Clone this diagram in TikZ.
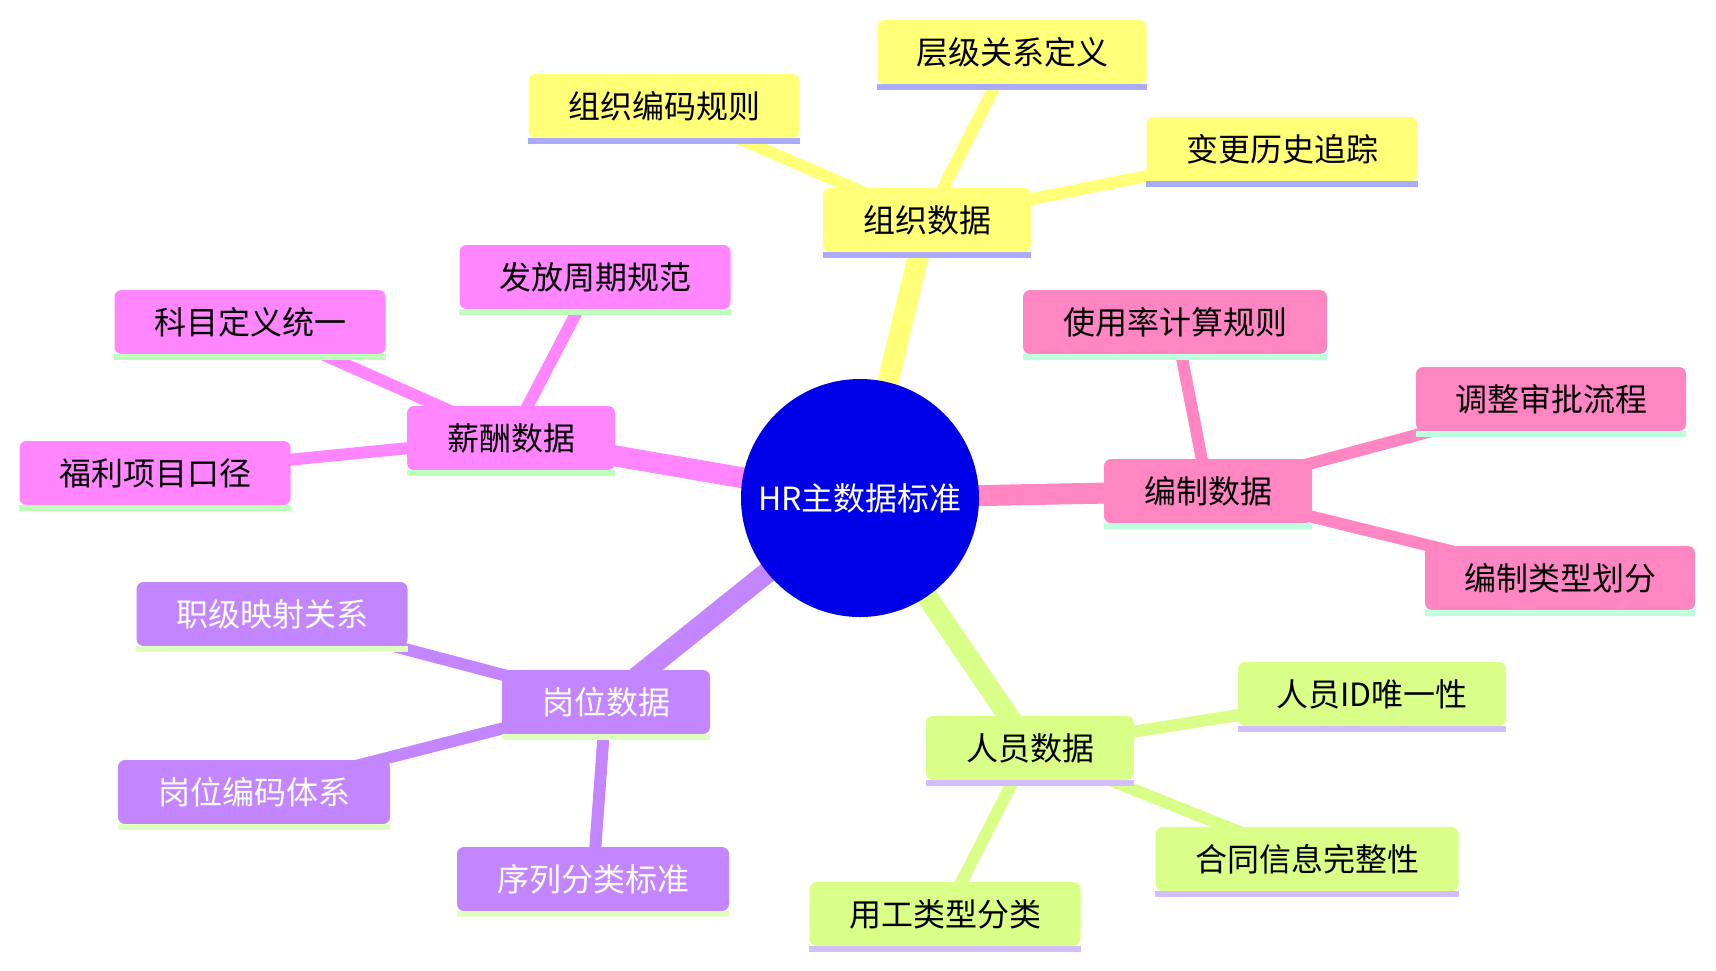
\documentclass[tikz,border=0pt]{standalone}
\usepackage{fontspec}
\newfontfamily\cjk{Noto Sans CJK SC}
\usetikzlibrary{backgrounds}
\definecolor{cRoot}{RGB}{0,0,232}
\definecolor{cY}{RGB}{255,255,120}
\definecolor{cYu}{RGB}{170,170,255}
\definecolor{cL}{RGB}{218,255,136}
\definecolor{cLu}{RGB}{210,190,255}
\definecolor{cP}{RGB}{195,134,255}
\definecolor{cPu}{RGB}{222,255,190}
\definecolor{cM}{RGB}{255,134,255}
\definecolor{cMu}{RGB}{189,255,189}
\definecolor{cR}{RGB}{255,134,195}
\definecolor{cRu}{RGB}{189,255,222}
\tikzset{
  mmbox/.style={rectangle, rounded corners=7pt, minimum height=64pt, inner sep=0pt,
    font=\cjk\fontsize{32}{38}\selectfont, align=center},
  sY/.style={fill=cY, text=black}, sYul/.style={fill=cYu},
  sL/.style={fill=cL, text=black}, sLul/.style={fill=cLu},
  sP/.style={fill=cP, text=white}, sPul/.style={fill=cPu},
  sM/.style={fill=cM, text=black}, sMul/.style={fill=cMu},
  sR/.style={fill=cR, text=black}, sRul/.style={fill=cRu},
  thick edge/.style={line width=21pt},
  thin edge/.style={line width=12pt},
}
\newcommand\mmnode[6]{%
  \node[mmbox,#1,minimum width=#5pt] (#2) at (#3,#4) {#6};
  \fill[#1ul] (#2.south west) rectangle ([yshift=-6pt]#2.south east);}
\begin{document}
\begin{tikzpicture}[x=1pt,y=-1pt]
\useasboundingbox (0,0) rectangle (1716,970);
% root
\node[circle, fill=cRoot, text=white, minimum size=238pt, inner sep=0pt,
  font=\cjk\fontsize{32}{38}\selectfont] (root) at (860,498) {HR主数据标准};
% organisation
\mmnode{sY}{org}{927}{220}{208}{组织数据}
\mmnode{sY}{org1}{1012}{52}{269}{层级关系定义}
\mmnode{sY}{org2}{664}{106}{271}{组织编码规则}
\mmnode{sY}{org3}{1282}{149}{271}{变更历史追踪}
% salary
\mmnode{sM}{sal}{511}{438}{208}{薪酬数据}
\mmnode{sM}{sal1}{595}{277}{271}{发放周期规范}
\mmnode{sM}{sal2}{250}{322}{271}{科目定义统一}
\mmnode{sM}{sal3}{155}{473}{271}{福利项目口径}
% headcount
\mmnode{sR}{hc}{1208}{491}{208}{编制数据}
\mmnode{sR}{hc1}{1175}{322}{304}{使用率计算规则}
\mmnode{sR}{hc2}{1551}{399}{270}{调整审批流程}
\mmnode{sR}{hc3}{1560}{578}{270}{编制类型划分}
% position
\mmnode{sP}{pos}{606}{702}{208}{岗位数据}
\mmnode{sP}{pos1}{272}{614}{271}{职级映射关系}
\mmnode{sP}{pos2}{254}{792}{272}{岗位编码体系}
\mmnode{sP}{pos3}{593}{879}{272}{序列分类标准}
% people
\mmnode{sL}{emp}{1030}{748}{208}{人员数据}
\mmnode{sL}{emp1}{1372}{694}{268}{人员ID唯一性}
\mmnode{sL}{emp2}{1307}{859}{303}{合同信息完整性}
\mmnode{sL}{emp3}{945}{914}{271}{用工类型分类}
\begin{scope}[on background layer]
  \draw[thick edge, cY] (root.center) -- (org.center);
  \draw[thick edge, cM] (root.center) -- (sal.center);
  \draw[thick edge, cR] (root.center) -- (hc.center);
  \draw[thick edge, cP] (root.center) -- (pos.center);
  \draw[thick edge, cL] (root.center) -- (emp.center);
  \foreach \c/\p in {cY/org, cM/sal, cR/hc, cP/pos, cL/emp}{
    \foreach \i in {1,2,3}{
      \draw[thin edge, \c] (\p.center) -- (\p\i.center);
    }
  }
\end{scope}
\end{tikzpicture}
\end{document}
